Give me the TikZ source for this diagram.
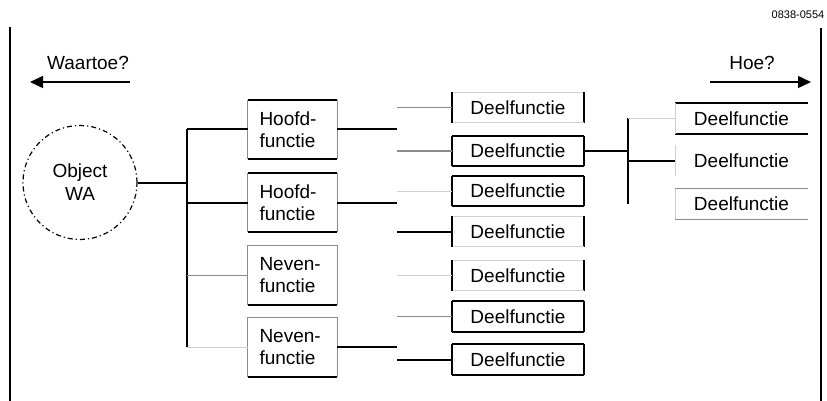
\documentclass[tikz,border=0pt]{standalone}
\usepackage{fontspec}
\setmainfont{Liberation Sans}
\usetikzlibrary{arrows.meta}
\newcommand{\boxfont}{\fontsize{19}{22}\selectfont}
\tikzset{
  heavy/.style={line width=2pt,draw=black},
  light/.style={line width=1pt,draw=black!45},
  faint/.style={line width=1pt,draw=black!18},
  blank/.style={draw=none},
  frame/.style n args={4}{append after command={
    (\tikzlastnode.north west) edge[#1] (\tikzlastnode.north east)
    (\tikzlastnode.north east) edge[#2] (\tikzlastnode.south east)
    (\tikzlastnode.south east) edge[#3] (\tikzlastnode.south west)
    (\tikzlastnode.south west) edge[#4] (\tikzlastnode.north west)}},
  mainbox/.style={rectangle,font=\boxfont,align=left,text width=66pt,minimum width=89pt,minimum height=59pt},
  deelbox/.style={rectangle,font=\boxfont,minimum width=132pt,minimum height=30pt,inner sep=0pt},
  pointer/.style={line width=1.5pt,-{Triangle[length=13pt,width=12pt]}},
}

\begin{document}
\begin{tikzpicture}[x=1pt,y=-1pt]
    \useasboundingbox (0,0) rectangle (827,401);
    \path [draw,heavy] (10,27) -- (10,401);
    \path [draw,heavy] (821,28) -- (821,401);
    \node (code) at (798,15) [font=\fontsize{11}{13}\selectfont] {0838-0554};
    \node (waartoe) at (88,63) [font=\boxfont] {Waartoe?};
    \node (hoe) at (752,63) [font=\boxfont] {Hoe?};
    \coordinate (waarfrom) at (130,82);
    \coordinate (waarto) at (30,82);
    \coordinate (hoefrom) at (710,82);
    \coordinate (hoeto) at (811,82);
    \path [draw,pointer] (waarfrom) -- (waarto);
    \path [draw,pointer] (hoefrom) -- (hoeto);

    \node (obj) at (80,182.5) [circle,draw,line width=1.2pt,dash pattern=on 5pt off 3pt on 1.2pt off 3pt,minimum size=114pt,align=center,font=\fontsize{19}{23}\selectfont] {Object\\WA};

    \node (main1) at (292.5,129.5) [mainbox,frame={heavy}{light}{heavy}{light}] {Hoofd-\\functie};
    \node (main2) at (292.5,202.5) [mainbox,frame={heavy}{light}{heavy}{light}] {Hoofd-\\functie};
    \node (main3) at (292.5,275) [mainbox,frame={light}{light}{heavy}{light}] {Neven-\\functie};
    \node (main4) at (292.5,347) [mainbox,frame={light}{light}{heavy}{light}] {Neven-\\functie};

    \coordinate (trunktop) at (187,129.5);
    \coordinate (trunkbot) at (187,347);
    \path [draw,heavy] (obj.east) -- (obj.east -| trunktop);
    \path [draw,heavy] (trunktop) -- (trunkbot);
    \path [draw,heavy] (trunktop) -- (main1.west);
    \path [draw,heavy] (main2.west -| trunktop) -- (main2.west);
    \path [draw,light] (main3.west -| trunktop) -- (main3.west);
    \path [draw,faint] (trunkbot) -- (main4.west);

    \node (deel1) at (518,107.5) [deelbox,frame={faint}{heavy}{faint}{heavy}] {Deelfunctie};
    \node (deel2) at (518,151) [deelbox,frame={heavy}{heavy}{heavy}{heavy}] {Deelfunctie};
    \node (deel3) at (518,191) [deelbox,frame={heavy}{heavy}{heavy}{heavy}] {Deelfunctie};
    \node (deel4) at (518,231.5) [deelbox,frame={faint}{heavy}{faint}{heavy}] {Deelfunctie};
    \node (deel5) at (518,275.5) [deelbox,frame={faint}{heavy}{faint}{heavy}] {Deelfunctie};
    \node (deel6) at (518,316.5) [deelbox,frame={heavy}{heavy}{heavy}{heavy}] {Deelfunctie};
    \node (deel7) at (518,359.5) [deelbox,frame={heavy}{heavy}{heavy}{heavy}] {Deelfunctie};

    \coordinate (fork) at (397,0);
    \path [draw,heavy] (main1.east) -- (main1.east -| fork);
    \path [draw,heavy] (main2.east) -- (main2.east -| fork);
    \path [draw,heavy] (main4.east) -- (main4.east -| fork);
    \path [draw,light] (deel1.west -| fork) -- (deel1.west);
    \path [draw,light] (deel2.west -| fork) -- (deel2.west);
    \path [draw,faint] (deel3.west -| fork) -- (deel3.west);
    \path [draw,heavy] (deel4.west -| fork) -- (deel4.west);
    \path [draw,faint] (deel5.west -| fork) -- (deel5.west);
    \path [draw,light] (deel6.west -| fork) -- (deel6.west);
    \path [draw,heavy] (deel7.west -| fork) -- (deel7.west);

    \node (sub1) at (741.5,118.5) [deelbox,frame={heavy}{blank}{heavy}{faint}] {Deelfunctie};
    \node (sub2) at (741.5,160.5) [deelbox,frame={blank}{blank}{blank}{faint}] {Deelfunctie};
    \node (sub3) at (741.5,204) [deelbox,frame={light}{blank}{light}{faint}] {Deelfunctie};

    \coordinate (split) at (628,0);
    \path [draw,heavy] (deel2.east) -- (deel2.east -| split);
    \path [draw,heavy] (sub1.west -| split) -- (sub3.west -| split);
    \path [draw,faint] (sub1.west -| split) -- (sub1.west);
    \path [draw,heavy] (sub2.west -| split) -- (sub2.west);
\end{tikzpicture}
\end{document}
